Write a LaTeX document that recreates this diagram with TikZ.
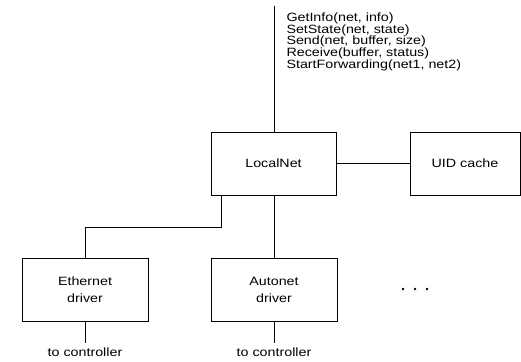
\documentclass[tikz,border=0pt]{standalone}
\usepackage{fontspec}
\setmainfont[FakeStretch=1.19]{Liberation Sans}
\begin{document}
\begin{tikzpicture}[x=1pt,y=-1pt,line width=1pt,
  box/.style={draw,rectangle,inner sep=0pt,minimum width=125pt,minimum height=63pt,
    align=center,font=\fontsize{12}{16.7}\selectfont},
  lbl/.style={inner sep=0pt,font=\fontsize{12}{11.7}\selectfont},
  dotmark/.style={fill=black,draw=none,circle,inner sep=0pt,minimum size=2.8pt}]
\useasboundingbox (0,0) rectangle (521,361);
\node[box] (ln) at (273.5,163.5) {LocalNet};
\node[box,minimum width=110pt] (uid) at (465,163.5) {UID cache};
\node[box,minimum width=126pt] (eth) at (85,290) {Ethernet\\driver};
\node[box,minimum width=126pt] (aut) at (274,290) {Autonet\\driver};
\coordinate (top) at (274,6);
\coordinate (bend1) at (221,227);
\coordinate (bend2) at (85,227);
\coordinate (ethend) at (85,343);
\coordinate (autend) at (274,343);
\node[lbl,anchor=base west,align=left] (api) at (286,68.3)
  {GetInfo(net, info)\\SetState(net, state)\\Send(net, buffer, size)\\Receive(buffer, status)\\StartForwarding(net1, net2)};
\node[lbl,anchor=base] (tc1) at (85,356) {to controller};
\node[lbl,anchor=base] (tc2) at (274,356) {to controller};
\node[dotmark] (d1) at (403,289) {};
\node[dotmark] (d2) at (415,289) {};
\node[dotmark] (d3) at (427,289) {};
\draw (top) -- (top |- ln.north);
\draw (ln.east) -- (uid.west);
\draw (bend1 |- ln.south) -- (bend1) -- (bend2) -- (eth.north);
\draw (ln.south -| aut.north) -- (aut.north);
\draw (eth.south) -- (ethend);
\draw (aut.south) -- (autend);
\end{tikzpicture}
\end{document}
